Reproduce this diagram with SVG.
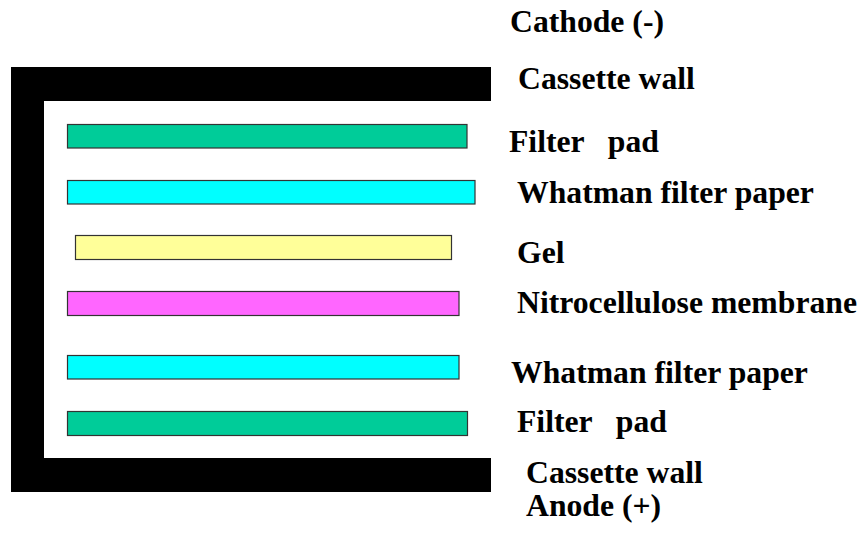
<svg xmlns="http://www.w3.org/2000/svg" width="862" height="533" viewBox="0 0 862 533">
<style>
.lbl{font-family:'Liberation Serif','Times New Roman',serif;font-weight:700;font-size:31.7px;fill:#000;white-space:pre}
.layer{stroke:#333;stroke-width:1.2}
</style>
<rect width="862" height="533" fill="#fff"/>
<g id="cassette">
<path d="M11 67 H491 V101 H44 V458 H491 V492 H11 Z" fill="#000"/>
</g>
<g id="filter-pad-top"><rect class="layer" x="67.5" y="124.5" width="399.5" height="23.5" fill="#00CC99"/></g>
<g id="whatman-top"><rect class="layer" x="67.5" y="180.5" width="407.5" height="23.5" fill="#00FFFF"/></g>
<g id="gel"><rect class="layer" x="75.5" y="235.5" width="376" height="24" fill="#FFFF99"/></g>
<g id="membrane"><rect class="layer" x="67.5" y="291.5" width="391.5" height="24" fill="#FF66FF"/></g>
<g id="whatman-bottom"><rect class="layer" x="67.5" y="355.5" width="391.5" height="23.5" fill="#00FFFF"/></g>
<g id="filter-pad-bottom"><rect class="layer" x="67.5" y="411.5" width="400" height="24" fill="#00CC99"/></g>
<g id="labels">
<text class="lbl" x="510" y="32">Cathode (-)</text>
<text class="lbl" x="518" y="89">Cassette wall</text>
<text class="lbl" x="509" y="151.5">Filter   pad</text>
<text class="lbl" x="517" y="202.5">Whatman filter paper</text>
<text class="lbl" x="517" y="263">Gel</text>
<text class="lbl" x="517" y="312.5">Nitrocellulose membrane</text>
<text class="lbl" x="511" y="383">Whatman filter paper</text>
<text class="lbl" x="517" y="431.5">Filter   pad</text>
<text class="lbl" x="526" y="483">Cassette wall</text>
<text class="lbl" x="526" y="516">Anode (+)</text>
</g>
</svg>
